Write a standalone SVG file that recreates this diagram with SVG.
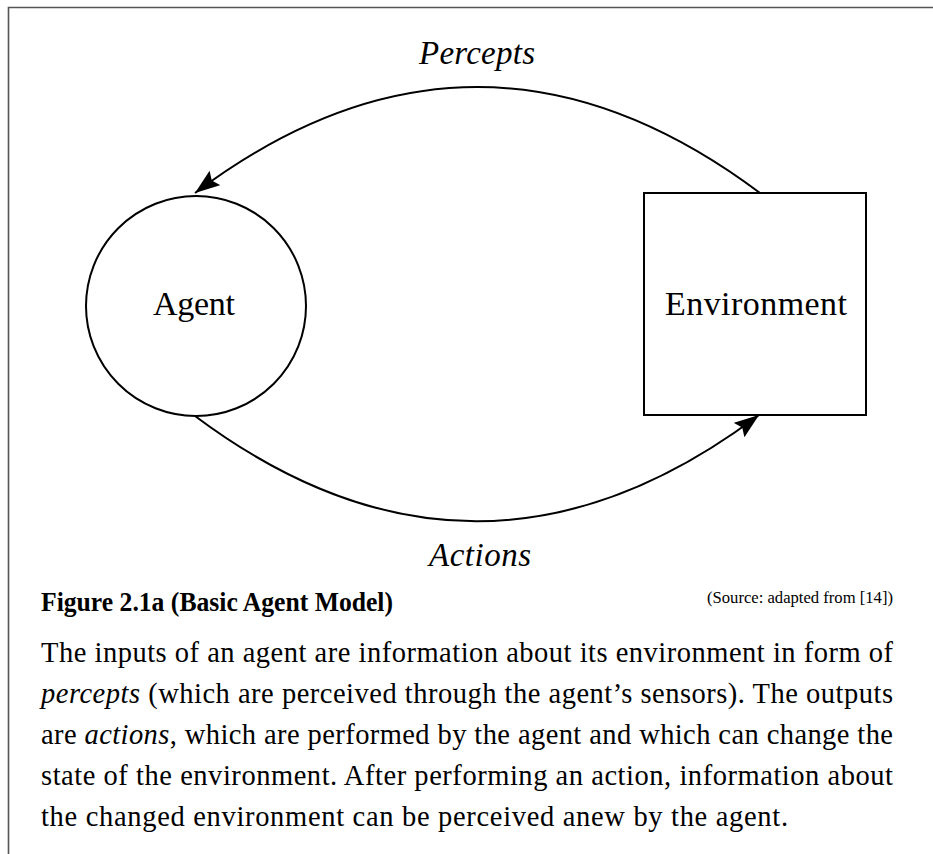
<svg xmlns="http://www.w3.org/2000/svg" width="933" height="854" viewBox="0 0 933 854">
  <style>
    .shape { fill: none; stroke: #000; stroke-width: 2; }
    .edge { fill: none; stroke: #000; stroke-width: 2; }
    .lbl { font-family: "Liberation Serif", "Times New Roman", serif; fill: #000; }
    .it { font-style: italic; }
    .body { font-family: "Liberation Serif", "Times New Roman", serif; font-size: 28.5px; fill: #000; }
  </style>
  <defs>
    <marker id="arrow" markerUnits="userSpaceOnUse" markerWidth="30" markerHeight="22" refX="25" refY="9" orient="auto">
      <path d="M0,0 L25,9 L0,18 L4,9 Z" fill="#000"/>
    </marker>
  </defs>

  <rect width="933" height="854" fill="#fff"/>

  <!-- frame -->
  <path d="M8.5,854 L8.5,7.5 L933,7.5" fill="none" stroke="#555" stroke-width="1.6"/>

  <!-- connectors -->
  <g id="connectors">
    <path id="percepts-edge" class="edge" d="M760,193 Q477,-19 195,193" marker-end="url(#arrow)"/>
    <path id="actions-edge" class="edge" d="M195,416 Q477,627 759,415" marker-end="url(#arrow)"/>
    <text class="lbl it" x="477" y="64" font-size="33" text-anchor="middle" textLength="116">Percepts</text>
    <text class="lbl it" x="480" y="566" font-size="33" text-anchor="middle" textLength="102">Actions</text>
  </g>

  <g id="agent">
    <circle class="shape" cx="196" cy="306" r="110"/>
    <text class="lbl" x="194" y="315" font-size="34" text-anchor="middle" textLength="82">Agent</text>
  </g>

  <g id="environment">
    <rect class="shape" x="644" y="193" width="222" height="222"/>
    <text class="lbl" x="756" y="315" font-size="34" text-anchor="middle" textLength="182">Environment</text>
  </g>

  <!-- caption -->
  <g id="caption">
    <text class="lbl" x="41" y="611" font-size="27.5" font-weight="bold" textLength="352" lengthAdjust="spacingAndGlyphs">Figure 2.1a (Basic Agent Model)</text>
    <text class="lbl" x="893" y="603" font-size="17" text-anchor="end" textLength="186" lengthAdjust="spacingAndGlyphs">(Source: adapted from [14])</text>
    <text class="body" x="41" y="662" textLength="852" lengthAdjust="spacing">The inputs of an agent are information about its environment in form of</text>
    <text class="body" x="41" y="703" textLength="852" lengthAdjust="spacing"><tspan font-style="italic">percepts</tspan> (which are perceived through the agent’s sensors). The outputs</text>
    <text class="body" x="41" y="744" textLength="852" lengthAdjust="spacing">are <tspan font-style="italic">actions</tspan>, which are performed by the agent and which can change the</text>
    <text class="body" x="41" y="785" textLength="852" lengthAdjust="spacing">state of the environment. After performing an action, information about</text>
    <text class="body" x="41" y="826" textLength="747" lengthAdjust="spacing">the changed environment can be perceived anew by the agent.</text>
  </g>
</svg>
